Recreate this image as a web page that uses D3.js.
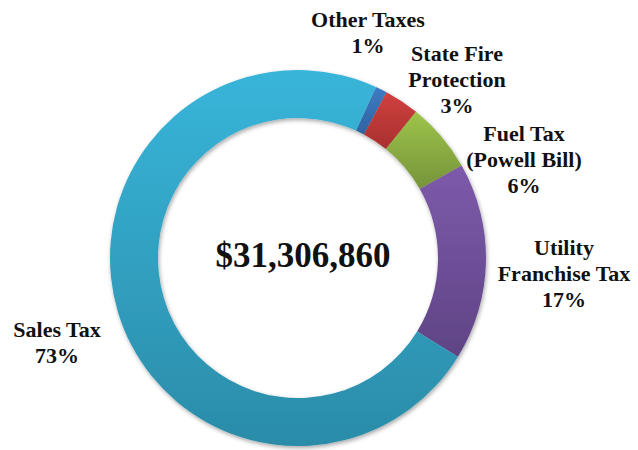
<!DOCTYPE html>
<html>
<head>
<meta charset="utf-8">
<script src="https://cdn.jsdelivr.net/npm/d3@7/dist/d3.min.js"></script>
<style>
  html, body { margin: 0; padding: 0; background: #fff; }
  svg { display: block; }
</style>
</head>
<body>
<svg id="chart" width="638" height="450"></svg>
<script>
// Revenue sources (percent of total), clockwise from the top-right
const categories = ["Other Taxes", "State Fire Protection", "Fuel Tax (Powell Bill)", "Utility Franchise Tax", "Sales Tax"];
const shares = [1, 3, 6, 17, 73];
const totalLabel = "$31,306,860";

// Label lines and anchor points for each slice
const labelLines = [
  ["Other Taxes"],
  ["State Fire", "Protection"],
  ["Fuel Tax", "(Powell Bill)"],
  ["Utility", "Franchise Tax"],
  ["Sales Tax"]
];
const labelPos = [[368, 27], [457, 61], [524, 141], [564, 255], [57, 337]];

// Top / bottom shades of each slice's vertical gradient
const colorTop = ["#3f7cc4", "#d0403f", "#9dc44a", "#7d5aaa", "#38b5da"];
const colorBottom = ["#2e62a0", "#a8302f", "#76933a", "#5f4485", "#2b8ca8"];

const serif = "'Liberation Serif', 'Times New Roman', Times, serif";

const svg = d3.select("#chart");
const cx = 298, cy = 258, outerR = 188, innerR = 140;

const defs = svg.append("defs");
const shadow = defs.append("filter").attr("id", "shadow")
  .attr("x", "-10%").attr("y", "-10%").attr("width", "120%").attr("height", "120%");
shadow.append("feDropShadow")
  .attr("dx", 1).attr("dy", 2).attr("stdDeviation", 2)
  .attr("flood-color", "#000").attr("flood-opacity", 0.35);

categories.forEach((c, i) => {
  const g = defs.append("linearGradient").attr("id", "grad" + i)
    .attr("x1", 0).attr("y1", 0).attr("x2", 0).attr("y2", 1);
  g.append("stop").attr("offset", "0%").attr("stop-color", colorTop[i]);
  g.append("stop").attr("offset", "100%").attr("stop-color", colorBottom[i]);
});

const startA = 24.5 * Math.PI / 180;
const pie = d3.pie().sort(null).value(d => d)
  .startAngle(startA).endAngle(startA + 2 * Math.PI);
const arc = d3.arc().innerRadius(innerR).outerRadius(outerR);

const ring = svg.append("g")
  .attr("transform", `translate(${cx},${cy})`)
  .attr("filter", "url(#shadow)");

ring.selectAll("path")
  .data(pie(shares))
  .join("path")
  .attr("d", arc)
  .attr("fill", (d, i) => `url(#grad${i})`);

// Center total
svg.append("text")
  .attr("x", cx + 5).attr("y", cy + 9)
  .attr("text-anchor", "middle")
  .attr("font-family", serif)
  .attr("font-weight", "bold")
  .attr("font-size", 35)
  .attr("fill", "#111")
  .text(totalLabel);

// Slice labels: name lines followed by rounded percentage
const lineH = 26;
const labels = svg.append("g")
  .attr("font-family", serif)
  .attr("font-weight", "bold")
  .attr("font-size", 22)
  .attr("fill", "#111");
categories.forEach((c, i) => {
  const t = labels.append("text")
    .attr("text-anchor", "middle")
    .attr("x", labelPos[i][0]).attr("y", labelPos[i][1]);
  const lines = labelLines[i].concat([Math.round(shares[i] / d3.sum(shares) * 100) + "%"]);
  lines.forEach((ln, j) => {
    t.append("tspan")
      .attr("x", labelPos[i][0])
      .attr("dy", j === 0 ? 0 : lineH)
      .text(ln);
  });
});
</script>
</body>
</html>
